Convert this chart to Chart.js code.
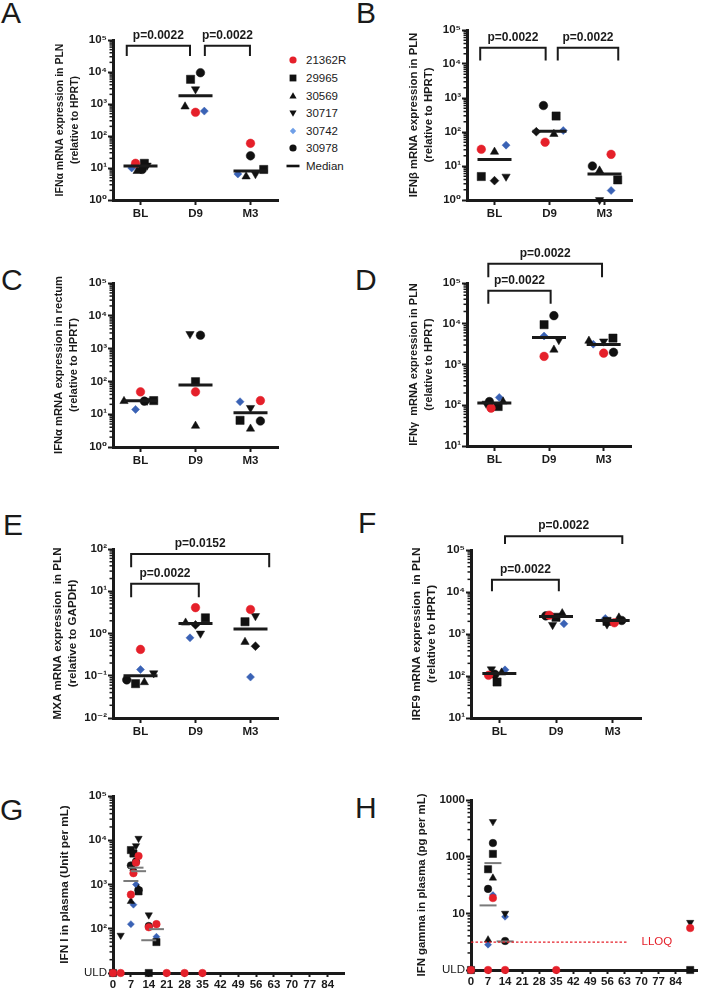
<!DOCTYPE html>
<html><head><meta charset="utf-8">
<script src="https://cdn.jsdelivr.net/npm/chart.js@4.4.1/dist/chart.umd.min.js"></script>
<style>
html,body{margin:0;padding:0;background:#fff;}
#wrap{position:relative;width:708px;height:991px;overflow:hidden;font-family:'Liberation Sans',Arial,'DejaVu Sans',sans-serif;color:#1a1a1a;}
canvas{position:absolute;display:block;}
.lt{position:absolute;font-size:30px;line-height:30px;font-weight:normal;}
.lr{position:absolute;left:286px;height:14px;line-height:14px;font-size:11.5px;white-space:nowrap;}
.lr svg{position:absolute;left:0;top:0;}
.lr span{position:absolute;left:20px;top:0;}
</style></head>
<body><div id="wrap">
<div class="lt" style="left:1px;top:-2px">A</div>
<div class="lt" style="left:356px;top:-2px">B</div>
<div class="lt" style="left:1px;top:265px">C</div>
<div class="lt" style="left:355px;top:265px">D</div>
<div class="lt" style="left:3px;top:510px">E</div>
<div class="lt" style="left:358px;top:508px">F</div>
<div class="lt" style="left:0px;top:795px">G</div>
<div class="lt" style="left:355px;top:793px">H</div>

<div class="lr" style="top:53px"><svg width="14" height="14"><circle cx="7" cy="7" r="3.6" fill="#e5202a"/></svg><span>21362R</span></div>
<div class="lr" style="top:71px"><svg width="14" height="14"><rect x="3.6" y="3.6" width="6.8" height="6.8" fill="#111"/></svg><span>29965</span></div>
<div class="lr" style="top:89px"><svg width="14" height="14"><polygon points="7,3.2 10.6,9.6 3.4,9.6" fill="#111"/></svg><span>30569</span></div>
<div class="lr" style="top:106px"><svg width="14" height="14"><polygon points="3.4,4.4 10.6,4.4 7,10.8" fill="#111"/></svg><span>30717</span></div>
<div class="lr" style="top:124px"><svg width="14" height="14"><polygon points="7,3.8 10.2,7 7,10.2 3.8,7" fill="#6f9fe8"/></svg><span>30742</span></div>
<div class="lr" style="top:141px"><svg width="14" height="14"><circle cx="7" cy="7" r="3.6" fill="#111"/></svg><span>30978</span></div>
<div class="lr" style="top:159px"><svg width="14" height="14"><line x1="0.5" y1="7" x2="13.5" y2="7" stroke="#111" stroke-width="2.6"/></svg><span>Median</span></div>

<canvas id="cA" width="354" height="230" style="left:0;top:0"></canvas>
<canvas id="cB" width="354" height="230" style="left:354px;top:0"></canvas>
<canvas id="cC" width="354" height="250" style="left:0;top:230px"></canvas>
<canvas id="cD" width="354" height="250" style="left:354px;top:230px"></canvas>
<canvas id="cE" width="354" height="270" style="left:0;top:480px"></canvas>
<canvas id="cF" width="354" height="270" style="left:354px;top:480px"></canvas>
<canvas id="cG" width="354" height="231" style="left:0;top:760px"></canvas>
<canvas id="cH" width="354" height="231" style="left:354px;top:760px"></canvas>
</div>
<script>
// ---------------- DATA ----------------
const ANIMALS = ['21362R','29965','30569','30717','30742','30978'];
const CATEGORIES = ['BL','D9','M3'];

// Panel A: IFN-alpha mRNA in PLN (BL, D9, M3)
const A_21362R = [14, 550, 59];
const A_29965  = [14, 5900, 9];
const A_30569  = [8, 830, 5.4];
const A_30717  = [12, 2900, 6.5];
const A_30742  = [10, 600, 6.5];
const A_30978  = [9, 9500, 24];
const A_median = [11.5, 1800, 8];

// Panel B: IFN-beta mRNA in PLN
const B_21362R = [31, 50, 22];
const B_29965  = [4.9, 295, 3.9];
const B_30569  = [26, 87, 7.3];
const B_30717  = [4.9, 102, 1.0];
const B_30742  = [41, 110, 1.9];
const B_30978  = [3.7, 600, 10];
const B_median = [15.5, 106, 5.8];

// Panel C: IFN-alpha mRNA in rectum
const C_21362R = [48, 48, 26];
const C_29965  = [26, 98, 6.5];
const C_30569  = [25, 4.4, 3.6];
const C_30717  = [26, 2800, 15.6];
const C_30742  = [14, null, 24];
const C_30978  = [25, 2560, 6.2];
const C_median = [25.5, 77, 11];

// Panel D: IFN-gamma mRNA in PLN
const D_21362R = [85, 1580, 1900];
const D_29965  = [93, 9500, 4440];
const D_30569  = [123, 2300, 3800];
const D_30717  = [110, 4000, 3700];
const D_30742  = [155, 5000, 3150];
const D_30978  = [123, 15800, 1990];
const D_median = [114, 4600, 3100];

// Panel E: MXA mRNA in PLN (relative to GAPDH)
const E_21362R = [0.42, 4.1, 3.7];
const E_29965  = [0.065, 2.35, 1.9];
const E_30569  = [0.07, 1.8, 0.63];
const E_30717  = [0.115, 1.0, 2.6];
const E_30742  = [0.14, 0.79, 0.093];
const E_30978  = [0.08, 1.6, 0.5];
const E_median = [0.1, 1.72, 1.27];

// Panel F: IRF9 mRNA in PLN
const F_21362R = [104, 2800, 1850];
const F_29965  = [72, 2500, 2000];
const F_30569  = [120, 3100, 2450];
const F_30717  = [145, 1650, 1700];
const F_30742  = [140, 1750, 2350];
const F_30978  = [110, 2700, 2100];
const F_median = [114, 2600, 2100];

// Panel G: IFN I in plasma (Unit per mL) by day
const G_days_21362R = [0, 3, 7, 8, 9, 10, 14, 17, 21, 28, 35];
const G_vals_21362R = ['ULD','ULD', 590, 1800, 3100, 4400, 108, 127, 'ULD','ULD','ULD'];
const G_days_29965  = [0, 7, 8, 10, 14, 17];
const G_vals_29965  = ['ULD', 6000, 5000, 700, 'ULD', 50];
const G_days_30569  = [7, 8, 10];
const G_vals_30569  = [415, 2300, 800];
const G_days_30717  = [3, 9, 10, 14];
const G_vals_30717  = [71, 7500, 11000, 205];
const G_days_30742  = [7, 8, 9, 17];
const G_vals_30742  = [127, 350, 1000, 66];
const G_days_30978  = [7, 9, 10, 14];
const G_vals_30978  = [2700, 3300, 750, 115];
const G_median_days = [7, 9, 10, 14, 17];
const G_median_vals = [1200, 2400, 2000, 55, 98];

// Panel H: IFN gamma in plasma (pg per mL) by day
const H_days_21362R = [0, 7, 9, 14, 35, 90];
const H_vals_21362R = ['ULD','ULD', 18.6, 'ULD','ULD', 5.5];
const H_days_29965  = [0, 7, 9, 90];
const H_vals_29965  = ['ULD', 60, 112, 'ULD'];
const H_days_30569  = [7, 9];
const H_vals_30569  = [3.4, 42];
const H_days_30717  = [9, 14, 90];
const H_vals_30717  = [415, 10, 6.9];
const H_days_30742  = [7, 9, 14];
const H_vals_30742  = [2.8, 21, 8.7];
const H_days_30978  = [7, 9, 14];
const H_vals_30978  = [27, 174, 3.25];
const H_median_days = [7, 9, 14];
const H_median_vals = [13.8, 77, 3.2];
const H_LLOQ = 3.1;

const DAY_TICKS = [0, 7, 14, 21, 28, 35, 42, 49, 56, 63, 70, 77, 84];

// ---------------- LAYOUT / STYLE ----------------
const FONT = "'Liberation Sans', Arial, 'DejaVu Sans', sans-serif";
const AX = '#1a1a1a';
const RED = '#e5202a';
const BLUE = '#3a62b5';
const STYLE = {
  '21362R': {shape:'circle',   r:4.3, rot:0,   color:RED},
  '29965':  {shape:'rect',     r:5.8, rot:0,   color:'#111'},
  '30569':  {shape:'triangle', r:4.8, rot:0,   color:'#111'},
  '30717':  {shape:'triangle', r:4.8, rot:180, color:'#111'},
  '30742':  {shape:'rectRot',  r:4.0, rot:0,   color:BLUE},
  '30978':  {shape:'circle',   r:4.3, rot:0,   color:'#111'}
};
// horizontal jitter of columns (category units), per animal in ANIMALS order
const A_jitter = [[-0.09,0,0],[0.07,-0.09,0.24],[-0.06,-0.19,-0.08],[0.12,0,0.09],[-0.16,0.16,-0.23],[0.03,0.09,0]];
const B_jitter = [[-0.24,-0.08,0.12],[-0.24,0.12,0.24],[0,0.08,-0.09],[0.21,-0.24,-0.09],[0.21,0.25,0.12],[0,-0.11,-0.22]];
const C_jitter = [[0,0,0.18],[0.24,0,-0.19],[-0.3,0,0],[0.12,-0.1,0],[-0.09,0,-0.19],[0.07,0.09,0.18]];
const D_jitter = [[-0.06,-0.09,0],[0.07,-0.09,0.17],[0.16,0.09,-0.27],[-0.15,0.18,0],[0.09,-0.09,-0.19],[-0.09,0.09,0.18]];
const E_jitter = [[0,0,0],[-0.09,0.18,-0.1],[0.07,-0.18,-0.1],[0.24,0.09,0.09],[0,-0.1,0],[-0.25,0,0.09]];
const F_jitter = [[-0.19,-0.12,0.03],[-0.04,0,-0.1],[0.04,0.11,0.11],[-0.14,-0.06,-0.1],[0.1,0.14,-0.13],[-0.08,-0.18,0.16]];
// marker overrides (black diamonds in the original)
const B_over = {'30717':[null,'rectRot',null], '30978':['rectRot',null,null]};
const E_over = {'30978':[null,'rectRot','rectRot']};

const SUP = {'0':'\u2070','1':'\u00b9','2':'\u00b2','3':'\u00b3','4':'\u2074','5':'\u2075','-':'\u207b'};
function isPow10(v){ const l = Math.log10(v); return Math.abs(l - Math.round(l)) < 1e-9; }
function powLabel(v){ const e = Math.round(Math.log10(v)); return '10' + String(e).split('').map(c => SUP[c]).join(''); }
function decadeLabel(v){ return isPow10(v) ? powLabel(v) : ''; }
function logTicks(min, max){
  const out = [];
  const e0 = Math.round(Math.log10(min)), e1 = Math.round(Math.log10(max));
  for (let e = e0; e <= e1; e++){
    const b = Math.pow(10, e);
    out.push({value: b, major: true});
    if (e < e1) for (let k = 2; k <= 9; k++) out.push({value: +(k * b).toPrecision(6)});
  }
  return out;
}

Chart.defaults.font.family = FONT;
Chart.defaults.color = AX;

const minorTicks = {
  id: 'minorTicks',
  afterDraw(chart){
    const s = chart.scales.y, ctx = chart.ctx;
    ctx.save(); ctx.strokeStyle = AX; ctx.lineWidth = 1.5;
    for (const t of s.ticks){
      if (isPow10(t.value)) continue;
      const y = s.getPixelForValue(t.value);
      ctx.beginPath(); ctx.moveTo(s.right - 3.5, y); ctx.lineTo(s.right, y); ctx.stroke();
    }
    ctx.restore();
  }
};
const brackets = {
  id: 'brackets',
  afterDatasetsDraw(chart, args, opts){
    const items = (opts && opts.items) || [];
    const {ctx} = chart, x = chart.scales.x, y = chart.scales.y;
    ctx.save(); ctx.strokeStyle = AX; ctx.fillStyle = AX; ctx.lineWidth = 2;
    ctx.font = 'bold 12px ' + FONT; ctx.textAlign = 'center'; ctx.textBaseline = 'middle';
    for (const b of items){
      const x1 = x.getPixelForValue(b.from), x2 = x.getPixelForValue(b.to);
      const yt = y.getPixelForValue(b.top), yl = y.getPixelForValue(b.leg);
      ctx.beginPath(); ctx.moveTo(x1, yl); ctx.lineTo(x1, yt); ctx.lineTo(x2, yt); ctx.lineTo(x2, yl); ctx.stroke();
      ctx.fillText(b.label, (x1 + x2) / 2, yt - 10);
    }
    ctx.restore();
  }
};
const lloq = {
  id: 'lloq',
  afterDatasetsDraw(chart, args, opts){
    if (!opts || opts.value == null) return;
    const {ctx} = chart, x = chart.scales.x, y = chart.scales.y;
    const py = y.getPixelForValue(opts.value);
    ctx.save(); ctx.strokeStyle = RED; ctx.lineWidth = 1.2; ctx.setLineDash([2.5, 2]);
    ctx.beginPath(); ctx.moveTo(x.getPixelForValue(0), py); ctx.lineTo(x.getPixelForValue(opts.toDay), py); ctx.stroke();
    ctx.setLineDash([]); ctx.fillStyle = RED; ctx.font = '11.5px ' + FONT; ctx.textBaseline = 'middle'; ctx.textAlign = 'left';
    ctx.fillText('LLOQ', x.getPixelForValue(opts.labelDay), py);
    ctx.restore();
  }
};
Chart.register(minorTicks, brackets, lloq);

function yScale(p){
  const ts = p.titleSize || 10.5;
  return {
    type: 'logarithmic', min: p.ymin, max: p.ymax,
    afterBuildTicks: s => { s.ticks = logTicks(p.ymin, p.ymax); },
    afterFit: s => { s.width = p.yWidth; },
    ticks: {
      autoSkip: false, padding: 1, color: AX,
      font: c => ({family: FONT, size: 11.5, weight: (c.tick && p.yLabel(c.tick.value) === 'ULD') ? 'normal' : 'bold'}),
      callback: v => p.yLabel(v)
    },
    grid: {drawOnChartArea: false, drawTicks: true, tickLength: 5, tickWidth: 2,
      tickColor: c => (c.tick && isPow10(c.tick.value)) ? AX : 'rgba(0,0,0,0)'},
    border: {display: true, width: 3, color: AX},
    title: {display: true, text: p.yTitle, color: AX, padding: {top: 0, bottom: 0},
      font: {family: FONT, size: ts, weight: 'bold', lineHeight: 15 / ts}}
  };
}
function baseOptions(p, xScale){
  return {
    responsive: false, animation: false, devicePixelRatio: 1, events: [],
    layout: {padding: {left: p.padLeft, top: p.padTop, right: p.padRight, bottom: 0}},
    scales: {x: xScale, y: yScale(p)},
    plugins: {legend: {display: false}, tooltip: {enabled: false},
      brackets: {items: p.brackets || []}, lloq: p.lloq || {}}
  };
}

function catPanel(id, p){
  const ds = [{
    label: 'Median', data: p.median.map((m, i) => ({x: i, y: m})),
    pointStyle: 'line', pointRadius: 17, pointBorderWidth: 3,
    pointBorderColor: AX, pointBackgroundColor: AX, showLine: false, clip: false
  }];
  ANIMALS.forEach((a, k) => {
    const st = STYLE[a], vals = p.values[k], jit = p.jitter[k], ov = (p.over || {})[a] || [];
    ds.push({
      label: a,
      data: vals.map((v, i) => ({x: i + jit[i], y: v})),
      pointStyle: vals.map((v, i) => ov[i] || st.shape),
      pointRadius: vals.map((v, i) => ov[i] ? 4.4 : st.r),
      pointRotation: vals.map((v, i) => ov[i] ? 0 : st.rot),
      pointBackgroundColor: st.color, pointBorderColor: st.color, pointBorderWidth: 0.5,
      showLine: false, clip: false
    });
  });
  const x = {
    type: 'linear', min: -0.5, max: 2.5,
    afterBuildTicks: s => { s.ticks = CATEGORIES.map((c, i) => ({value: i})); },
    afterFit: s => { s.height = p.xHeight; },
    ticks: {autoSkip: false, maxRotation: 0, padding: 2, color: AX,
      font: {family: FONT, size: 11.5, weight: 'bold'}, callback: v => CATEGORIES[v] ?? ''},
    grid: {drawOnChartArea: false, drawTicks: true, tickLength: 5, tickWidth: 2, tickColor: AX},
    border: {display: true, width: 3, color: AX}
  };
  new Chart(document.getElementById(id), {type: 'scatter', data: {datasets: ds}, options: baseOptions(p, x)});
}

function dayPanel(id, p){
  const mapY = v => v === 'ULD' ? p.ymin : v;
  const ds = [{
    label: 'Median', data: p.medDays.map((d, i) => ({x: d, y: p.medVals[i]})),
    pointStyle: 'line', pointRadius: p.medR, pointBorderWidth: 2,
    pointBorderColor: '#7a7a7a', pointBackgroundColor: '#7a7a7a', showLine: false, clip: false
  }];
  ANIMALS.forEach((a, k) => {
    const st = STYLE[a], days = p.days[k], vals = p.vals[k];
    ds.push({
      label: a, data: days.map((d, i) => ({x: d, y: mapY(vals[i])})),
      pointStyle: st.shape, pointRadius: st.r * 0.88, pointRotation: st.rot,
      pointBackgroundColor: st.color, pointBorderColor: st.color, pointBorderWidth: 0.5,
      showLine: false, clip: false
    });
  });
  const x = {
    type: 'linear', min: 0, max: p.xmax,
    afterBuildTicks: s => { s.ticks = DAY_TICKS.map(v => ({value: v})); },
    afterFit: s => { s.height = p.xHeight; },
    ticks: {autoSkip: false, maxRotation: 0, padding: 1, color: AX,
      font: {family: FONT, size: 11.5, weight: 'bold'}, callback: v => String(v)},
    grid: {drawOnChartArea: false, drawTicks: true, tickLength: 4, tickWidth: 2, tickColor: AX},
    border: {display: true, width: 3, color: AX}
  };
  new Chart(document.getElementById(id), {type: 'scatter', data: {datasets: ds}, options: baseOptions(p, x)});
}

const P = 'p=0.0022';
catPanel('cA', {
  values: [A_21362R, A_29965, A_30569, A_30717, A_30742, A_30978], median: A_median, jitter: A_jitter,
  ymin: 1, ymax: 1e5, yLabel: decadeLabel, yTitle: ['IFN\u03b1 mRNA expression in PLN', '(relative to HPRT)'],
  titleSize: 10.5, padLeft: 52.5, padTop: 40, padRight: 76, yWidth: 60.5, xHeight: 30,
  brackets: [{from: -0.25, to: 0.9, top: 10 ** 4.82, leg: 10 ** 4.5, label: P},
             {from: 1.17, to: 1.99, top: 10 ** 4.82, leg: 10 ** 4.5, label: P}]
});
catPanel('cB', {
  values: [B_21362R, B_29965, B_30569, B_30717, B_30742, B_30978], median: B_median, jitter: B_jitter, over: B_over,
  ymin: 1, ymax: 1e5, yLabel: decadeLabel, yTitle: ['IFN\u03b2 mRNA expression in PLN', '(relative to HPRT)'],
  titleSize: 11.3, padLeft: 52.5, padTop: 30, padRight: 76, yWidth: 60.5, xHeight: 30,
  brackets: [{from: -0.26, to: 0.93, top: 10 ** 4.48, leg: 10 ** 4.1, label: P},
             {from: 1.15, to: 2.25, top: 10 ** 4.48, leg: 10 ** 4.1, label: P}]
});
catPanel('cC', {
  values: [C_21362R, C_29965, C_30569, C_30717, C_30742, C_30978], median: C_median, jitter: C_jitter,
  ymin: 1, ymax: 1e5, yLabel: decadeLabel, yTitle: ['IFN\u03b1 mRNA expression in rectum', '(relative to HPRT)'],
  titleSize: 11.2, padLeft: 51, padTop: 53, padRight: 76, yWidth: 62, xHeight: 33
});
catPanel('cD', {
  values: [D_21362R, D_29965, D_30569, D_30717, D_30742, D_30978], median: D_median, jitter: D_jitter,
  ymin: 10, ymax: 1e5, yLabel: decadeLabel, yTitle: ['IFN\u03b3  mRNA expression in PLN', '(relative to HPRT)'],
  titleSize: 11, padLeft: 52.5, padTop: 53, padRight: 77, yWidth: 60.5, xHeight: 34,
  brackets: [{from: -0.11, to: 1.03, top: 10 ** 4.81, leg: 10 ** 4.49, label: P},
             {from: -0.11, to: 1.97, top: 10 ** 5.47, leg: 10 ** 5.14, label: P}]
});
catPanel('cE', {
  values: [E_21362R, E_29965, E_30569, E_30717, E_30742, E_30978], median: E_median, jitter: E_jitter, over: E_over,
  ymin: 0.01, ymax: 100, yLabel: decadeLabel, yTitle: ['MXA mRNA expression  in PLN', '(relative to GAPDH)'],
  titleSize: 11.6, padLeft: 50.5, padTop: 69, padRight: 76, yWidth: 62.5, xHeight: 32,
  brackets: [{from: -0.17, to: 1.06, top: 10 ** 1.18, leg: 10 ** 0.86, label: P},
             {from: -0.17, to: 2.34, top: 10 ** 1.88, leg: 10 ** 1.57, label: 'p=0.0152'}]
});
catPanel('cF', {
  values: [F_21362R, F_29965, F_30569, F_30717, F_30742, F_30978], median: F_median, jitter: F_jitter,
  ymin: 10, ymax: 1e5, yLabel: decadeLabel, yTitle: ['IRF9 mRNA expression  in PLN', '(relative to HPRT)'],
  titleSize: 11.7, padLeft: 55.5, padTop: 70, padRight: 67, yWidth: 61.5, xHeight: 32,
  brackets: [{from: -0.13, to: 1.05, top: 10 ** 4.29, leg: 10 ** 4.02, label: P},
             {from: 0.1, to: 2.17, top: 10 ** 5.33, leg: 10 ** 5.14, label: P}]
});
dayPanel('cG', {
  days: [G_days_21362R, G_days_29965, G_days_30569, G_days_30717, G_days_30742, G_days_30978],
  vals: [G_vals_21362R, G_vals_29965, G_vals_30569, G_vals_30717, G_vals_30742, G_vals_30978],
  medDays: G_median_days, medVals: G_median_vals, medR: 7.5,
  ymin: 10, ymax: 1e5, yLabel: v => (Math.abs(v - 10) < 1e-9 ? 'ULD' : decadeLabel(v)),
  yTitle: 'IFN I in plasma (Unit per mL)', titleSize: 11.7, xmax: 90.4,
  padLeft: 57.5, padTop: 36, padRight: 10, yWidth: 55.5, xHeight: 18
});
dayPanel('cH', {
  days: [H_days_21362R, H_days_29965, H_days_30569, H_days_30717, H_days_30742, H_days_30978],
  vals: [H_vals_21362R, H_vals_29965, H_vals_30569, H_vals_30717, H_vals_30742, H_vals_30978],
  medDays: H_median_days, medVals: H_median_vals, medR: 8.5,
  ymin: 1, ymax: 1000, yLabel: v => (Math.abs(v - 1) < 1e-9 ? 'ULD' : (isPow10(v) ? String(Math.round(v)) : '')),
  yTitle: 'IFN gamma in plasma (pg per mL)', titleSize: 11.4, xmax: 93,
  padLeft: 60.5, padTop: 40, padRight: 0, yWidth: 56.5, xHeight: 21,
  lloq: {value: H_LLOQ, toDay: 64.5, labelDay: 70}
});
</script>
</body></html>
